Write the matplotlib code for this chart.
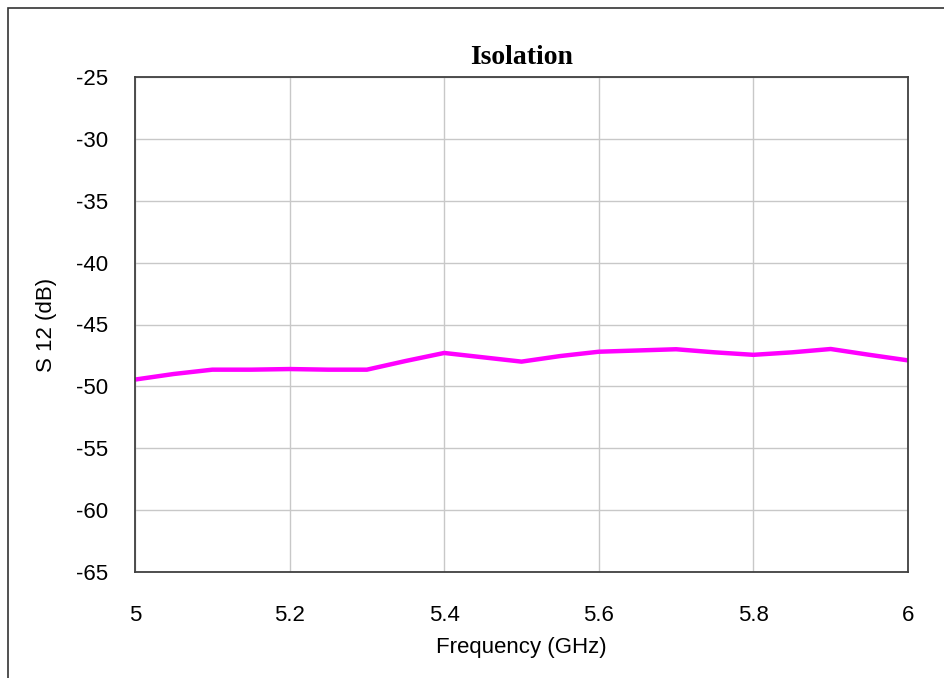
import matplotlib
matplotlib.use("Agg")
import matplotlib.pyplot as plt
from matplotlib.patches import Rectangle

plt.rcParams["axes.unicode_minus"] = False

# Data
freq_ghz = [5.0, 5.05, 5.1, 5.15, 5.2, 5.25, 5.3, 5.35, 5.4, 5.45, 5.5,
            5.55, 5.6, 5.65, 5.7, 5.75, 5.8, 5.85, 5.9, 5.95, 6.0]
s12_db = [-49.45, -49.0, -48.65, -48.65, -48.6, -48.65, -48.65, -47.95, -47.3, -47.65, -48.0,
          -47.55, -47.2, -47.1, -47.0, -47.25, -47.45, -47.25, -46.98, -47.45, -47.9]
x_ticks = [5.0, 5.2, 5.4, 5.6, 5.8, 6.0]
x_tick_labels = ["5", "5.2", "5.4", "5.6", "5.8", "6"]
y_ticks = [-25, -30, -35, -40, -45, -50, -55, -60, -65]

W, H = 945, 678
fig = plt.figure(figsize=(W / 100, H / 100), dpi=100)
fig.patch.set_facecolor("white")

# outer frame
fig.patches.append(Rectangle((8 / W, -0.1), 1.2, 1 - 8 / H + 0.1, transform=fig.transFigure,
                             fill=False, edgecolor="#333333", linewidth=1.2))

ax = fig.add_axes([135 / W, 1 - 572 / H, 773 / W, 495 / H])
ax.plot(freq_ghz, s12_db, color="#ff00ff", linewidth=3.2, solid_joinstyle="round")

ax.set_xlim(5.0, 6.0)
ax.set_ylim(-65, -25)
ax.set_xticks(x_ticks)
ax.set_xticklabels(x_tick_labels)
ax.set_yticks(y_ticks)
ax.grid(True, color="#c8c8c8", linewidth=1.0)
ax.set_axisbelow(True)
for s in ax.spines.values():
    s.set_color("#404040")
    s.set_linewidth(1.3)

font = "Liberation Sans"
ax.tick_params(axis="both", length=0, labelsize=16)
ax.tick_params(axis="x", pad=24)
ax.tick_params(axis="y", pad=19)
for lab in ax.get_xticklabels() + ax.get_yticklabels():
    lab.set_fontfamily(font)

ax.set_xlabel("Frequency (GHz)", fontsize=16, family=font, labelpad=8)
ax.set_ylabel("S 12 (dB)", fontsize=16, family=font, labelpad=14)
ax.set_title("Isolation", fontsize=20, family="Liberation Serif", fontweight="bold", pad=9)

fig.savefig("out.png", dpi=100, facecolor="white")
